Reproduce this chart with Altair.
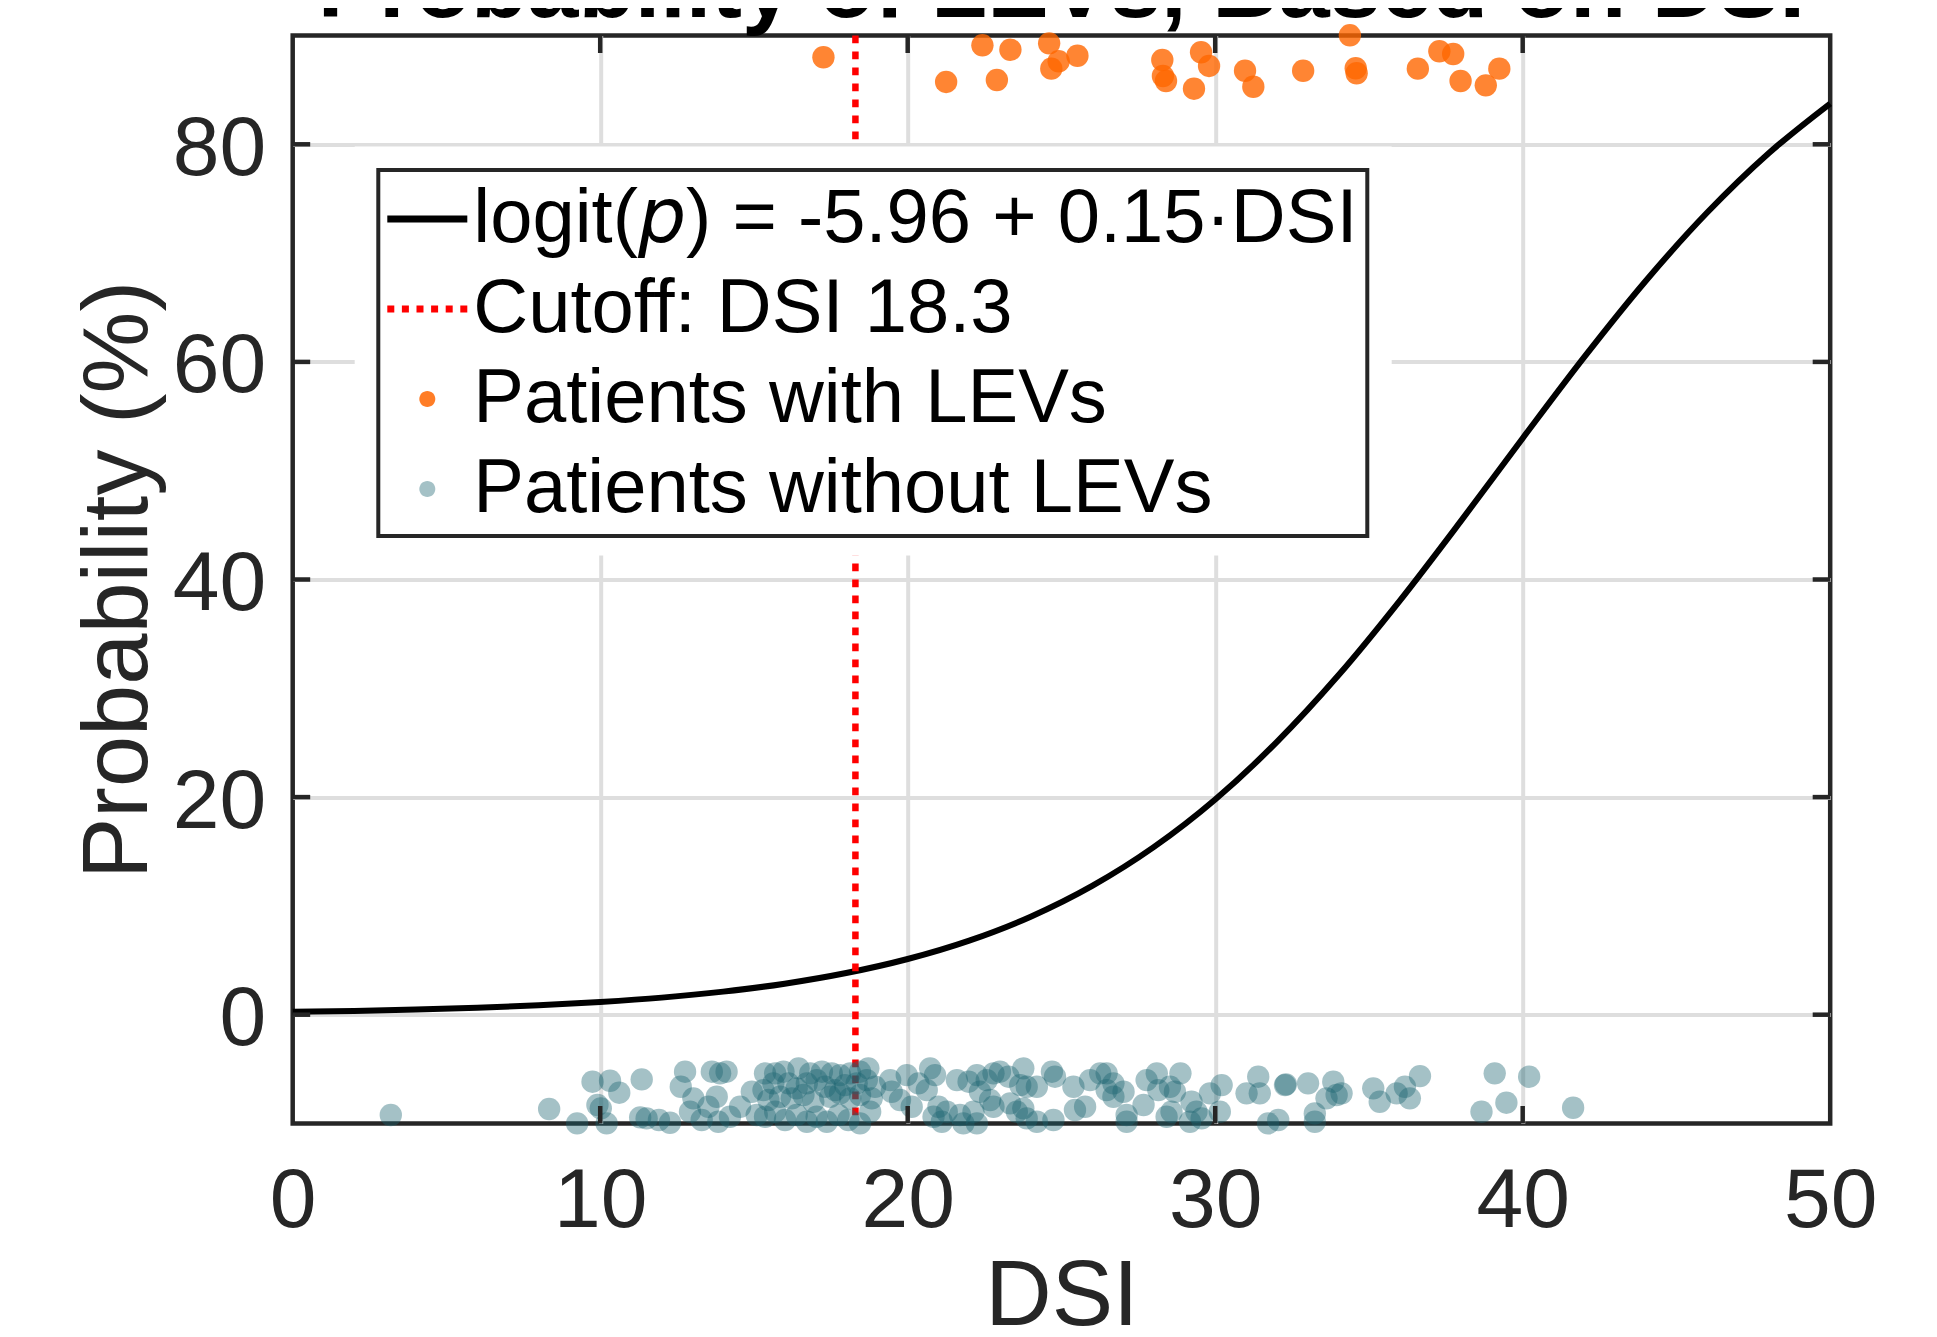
import altair as alt
import pandas as pd

FONT = "Liberation Sans"
AX = "#262626"
W, H = 1537.5, 1088
TICK = 17.5

# ---- data ----
curve_dsi = [0, 2, 4, 6, 8, 10, 12, 14, 16, 18, 20, 22, 24, 26, 28, 30, 32, 34, 36, 38, 40, 42, 44, 46, 48, 50]
curve_prob = [0.26, 0.35, 0.47, 0.64, 0.86, 1.17, 1.57, 2.12, 2.85, 3.83, 5.12, 6.81, 9.01, 11.84, 15.40,
              19.78, 25.05, 31.17, 38.04, 45.41, 52.99, 60.44, 67.44, 73.73, 79.18, 83.75]
cutoff_dsi = [18.3]

lev_dsi = [17.26, 21.25, 22.43, 22.90, 23.34, 24.60, 24.91, 24.67, 25.52, 28.28, 28.30, 28.40, 29.54, 29.80,
           29.31, 30.97, 31.24, 32.86, 34.38, 34.57, 34.60, 36.59, 37.29, 37.74, 37.98, 38.80, 39.24]
lev_y = [88.0, 85.73, 89.10, 85.91, 88.69, 89.28, 87.63, 86.95, 88.14, 87.75, 86.28, 85.82, 88.46, 87.20,
         85.11, 86.76, 85.29, 86.76, 90.02, 86.99, 86.53, 86.95, 88.55, 88.30, 85.82, 85.42, 86.95]

nolev_dsi = [
    3.19, 8.34, 9.25, 9.75, 10.32, 10.62, 9.91, 10.02, 10.21, 11.35, 11.30, 11.51, 11.91, 12.27, 12.76, 12.62,
    13.03, 12.92, 13.30, 13.63, 13.90, 14.11, 13.79, 13.52, 13.84, 14.22, 14.55, 14.93, 15.09,
    15.36, 15.69, 15.96, 16.45, 16.83, 17.21, 17.53, 17.80, 18.13, 18.45, 18.72,
    15.31, 15.63, 16.12, 16.39, 16.72, 17.04, 17.31, 17.64, 17.96, 18.34, 18.67, 18.94,
    15.47, 15.85, 16.23, 16.61, 16.93, 17.48, 17.80, 18.13, 18.45, 18.83,
    15.36, 15.69, 16.01, 16.39, 16.72, 17.04, 17.37, 17.75, 18.07, 18.45, 18.78,
    19.43, 19.48, 19.75, 19.97, 20.13, 20.35, 20.62, 20.73, 20.89, 20.84, 21.00, 21.11, 21.27, 21.60, 21.70,
    21.81, 21.98, 22.14, 22.25, 22.25, 22.35, 22.57, 22.68, 22.79, 22.79, 23.00, 23.28, 23.33, 23.55, 23.66,
    23.76, 23.76, 23.87, 23.87, 24.20, 24.20, 24.69, 24.79, 24.74, 25.39, 25.44, 25.77, 25.93, 26.26, 26.47,
    26.47, 26.69, 26.69, 27.02, 27.12, 27.12, 27.67, 27.77, 28.10, 28.15,
    28.87, 28.53, 28.69, 28.42, 28.58, 29.23, 29.39, 29.18, 29.56, 29.83, 30.21, 30.15, 31.02, 31.40, 31.45,
    31.72, 32.05, 32.27, 32.30, 33.02, 33.24, 33.24, 33.62, 33.84, 33.95, 34.11, 35.14, 35.35, 35.90, 36.17,
    36.33, 36.66, 38.66, 39.09, 39.47, 40.21, 41.64]
nolev_y = [
    -9.22, -8.67, -9.99, -6.16, -6.07, -7.17, -8.30, -8.61, -9.99, -5.95, -9.44, -9.53, -9.68, -9.93, -5.24, -6.62,
    -7.69, -8.92, -9.68, -5.24, -5.39, -5.24, -7.54, -8.46, -9.84, -9.38, -8.46, -7.08, -9.22,
    -5.39, -5.39, -5.24, -4.93, -5.39, -5.24, -5.39, -5.55, -5.39, -5.24, -4.93,
    -6.93, -6.31, -6.31, -6.77, -6.31, -6.01, -6.62, -6.93, -6.47, -6.31, -6.01, -6.62,
    -7.84, -7.54, -7.69, -7.38, -8.00, -7.54, -7.23, -7.69, -7.38, -7.69,
    -9.38, -8.92, -9.68, -9.22, -9.84, -9.38, -9.84, -9.22, -9.68, -9.99, -8.92,
    -6.01, -7.08, -7.84, -5.55, -8.46, -6.31, -6.93, -4.93, -5.55, -9.38, -8.46, -9.84, -8.92, -6.01, -9.22,
    -9.99, -6.16, -8.92, -5.55, -9.99, -7.08, -6.01, -7.84, -5.39, -8.46, -5.24, -5.70, -8.15, -8.92, -6.47,
    -4.93, -8.61, -6.62, -9.53, -6.62, -9.84, -5.24, -5.70, -9.68, -6.62, -8.76, -8.46, -6.01, -5.39, -5.39,
    -6.93, -6.31, -7.54, -7.08, -9.22, -9.84, -8.30, -6.01, -5.39, -6.93,
    -5.39, -6.62, -7.08, -9.38, -8.92, -8.00, -8.92, -9.84, -9.53, -7.23, -6.47, -8.92, -7.23, -5.70, -7.23,
    -9.99, -9.68, -6.47, -6.40, -6.31, -9.07, -9.84, -7.69, -6.16, -7.38, -7.23, -6.77, -8.00, -7.23, -6.62,
    -7.69, -5.64, -8.92, -5.39, -8.09, -5.70, -8.55]

x_ticks = [0, 10, 20, 30, 40, 50]
y_ticks = [0, 20, 40, 60, 80]

series = ["logit(\U0001D631) = -5.96 + 0.15\u00b7DSI", "Cutoff: DSI 18.3",
          "Patients with LEVs", "Patients without LEVs"]
C_CURVE, C_CUT, C_LEV, C_NOLEV = "#000000", "#FF0000", "#FF6600", "#1B6570"
series_colors = [C_CURVE, C_CUT, C_LEV, C_NOLEV]

curve_df = pd.DataFrame({"DSI": curve_dsi, "P": curve_prob})
cut_df = pd.DataFrame({"DSI": cutoff_dsi})
lev_df = pd.DataFrame({"DSI": lev_dsi, "P": lev_y, "series": series[2]})
nolev_df = pd.DataFrame({"DSI": nolev_dsi, "P": nolev_y, "series": series[3]})
xt_df = pd.DataFrame({"DSI": x_ticks[1:-1]})
yt_df = pd.DataFrame({"P": y_ticks})

xscale = alt.Scale(domain=[0, 50], nice=False, zero=False)
yscale = alt.Scale(domain=[-10, 90], nice=False, zero=False)
fscale = alt.Scale(domain=series, range=series_colors)

grid_hide_edges = {"condition": {"test": "datum.value == 0 || datum.value == 50", "value": 0}, "value": 1}

x_axis = alt.Axis(values=x_ticks, title="DSI", titleFont=FONT, titleFontSize=92, titleFontWeight="normal",
                  titleColor=AX, titlePadding=8, labelFont=FONT, labelFontSize=84, labelColor=AX,
                  labelPadding=37, labelFlush=False, labelOverlap=False, ticks=False, tickSize=0,
                  domain=False, grid=True, gridColor="#DEDEDE", gridWidth=4, gridOpacity=grid_hide_edges)
y_axis = alt.Axis(values=y_ticks, title="Probability (%)", titleFont=FONT, titleFontSize=92,
                  titleFontWeight="normal", titleColor=AX, titlePadding=7, labelFont=FONT, labelFontSize=84,
                  labelColor=AX, labelPadding=27, labelOffset=5, labelFlush=False, labelOverlap=False,
                  ticks=False, tickSize=0, domain=False, grid=True, gridColor="#DEDEDE", gridWidth=4)

# legend symbol glyphs (unit box -1..1, scaled by the symbol size)
line_path = "M-1,-0.085L1,-0.085L1,0.085L-1,0.085Z"
dash_starts = [-1.0, -0.635, -0.27, 0.095, 0.46, 0.825]
dash_path = " ".join(
    "M{a:.3f},-0.09L{b:.3f},-0.09L{b:.3f},0.09L{a:.3f},0.09Z".format(a=s, b=s + 0.175) for s in dash_starts)
dot_path = "M-0.2,0A0.2,0.2,0,1,1,0.2,0A0.2,0.2,0,1,1,-0.2,0Z"

legend = alt.Legend(
    title=None, orient="none", legendX=85.6, legendY=134.5, direction="vertical",
    padding=9, rowPadding=12, symbolSize=6400, symbolStrokeWidth=0,
    symbolType={"expr": "datum.index == 0 ? '" + line_path + "' : (datum.index == 1 ? '" + dash_path
                + "' : '" + dot_path + "')"},
    symbolOpacity={"expr": "datum.index == 3 ? 0.4 : (datum.index == 2 ? 0.85 : 1)"},
    labelFont=FONT, labelFontSize=76, labelColor="black", labelLimit=3000, labelOffset=6,
    fillColor="white", strokeColor=AX,
)

curve = alt.Chart(curve_df).mark_line(interpolate="monotone", strokeWidth=6, color=C_CURVE).encode(
    x=alt.X("DSI:Q", scale=xscale, axis=x_axis),
    y=alt.Y("P:Q", scale=yscale, axis=y_axis),
)
cutoff = alt.Chart(cut_df).mark_rule(color=C_CUT, strokeWidth=6.5, strokeDash=[7.7, 8.3]).encode(
    x=alt.X("DSI:Q", scale=xscale),
)
occluder = alt.Chart(cut_df).mark_rect(color="white").encode(
    x=alt.value(62), x2=alt.value(1099), y=alt.value(111), y2=alt.value(520)
)
lev = alt.Chart(lev_df).mark_circle(size=500, opacity=0.8).encode(
    x=alt.X("DSI:Q", scale=xscale),
    y=alt.Y("P:Q", scale=yscale),
    fill=alt.Fill("series:N", scale=fscale, legend=legend),
)
nolev = alt.Chart(nolev_df).mark_circle(size=500, opacity=0.4).encode(
    x=alt.X("DSI:Q", scale=xscale),
    y=alt.Y("P:Q", scale=yscale),
    fill=alt.Fill("series:N", scale=fscale, legend=legend),
)

tick_style = dict(color=AX, strokeWidth=4.5)
ticks_bottom = alt.Chart(xt_df).mark_rule(**tick_style).encode(
    x=alt.X("DSI:Q", scale=xscale), y=alt.value(H), y2=alt.value(H - TICK))
ticks_top = alt.Chart(xt_df).mark_rule(**tick_style).encode(
    x=alt.X("DSI:Q", scale=xscale), y=alt.value(0), y2=alt.value(TICK))
ticks_left = alt.Chart(yt_df).mark_rule(**tick_style).encode(
    y=alt.Y("P:Q", scale=yscale), x=alt.value(0), x2=alt.value(TICK))
ticks_right = alt.Chart(yt_df).mark_rule(**tick_style).encode(
    y=alt.Y("P:Q", scale=yscale), x=alt.value(W), x2=alt.value(W - TICK))

chart = alt.layer(
    curve, cutoff, occluder, lev, nolev, ticks_bottom, ticks_top, ticks_left, ticks_right
).properties(
    width=W, height=H,
    title=alt.TitleParams("Probability of LEVs, Based on DSI", font=FONT, fontSize=92, fontWeight="bold",
                          color="black", anchor="middle", offset=0, dy=12),
    padding={"left": 284.7, "top": 27.5, "right": 80, "bottom": 204},
    autosize=alt.AutoSizeParams(type="none"),
    background="white",
).configure_view(
    stroke=AX, strokeWidth=4.5
).configure_legend(
    strokeWidth=4
)

chart.save("out.html", embed_options={"renderer": "svg", "actions": False})
